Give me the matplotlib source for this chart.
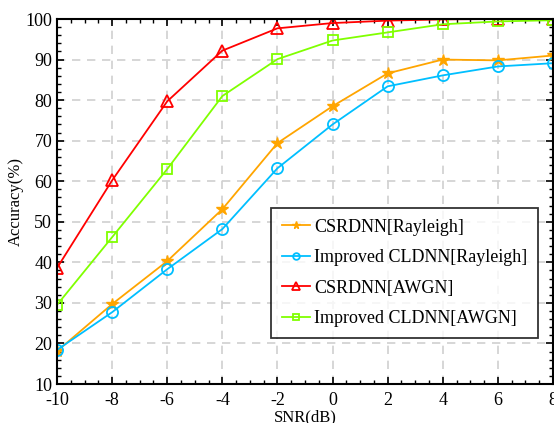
import matplotlib
matplotlib.use("Agg")
import matplotlib.pyplot as plt
from matplotlib.ticker import MultipleLocator

plt.rcParams['font.family'] = ['Liberation Serif', 'DejaVu Serif']
plt.rcParams['mathtext.fontset'] = 'stix'

snr = [-10, -8, -6, -4, -2, 0, 2, 4, 6, 8]
csrdnn_rayleigh = [18.1, 29.7, 40.3, 53.1, 69.4, 78.5, 86.6, 90.0, 89.8, 91.0]
cldnn_rayleigh = [18.4, 27.7, 38.3, 48.2, 63.2, 74.0, 83.4, 86.1, 88.3, 89.1]
csrdnn_awgn = [38.6, 60.2, 79.7, 92.2, 97.7, 99.0, 99.6, 99.9, 100.0, 100.0]
cldnn_awgn = [29.5, 46.2, 63.0, 81.0, 90.1, 94.7, 96.7, 98.7, 99.4, 99.7]

labels = ['CSRDNN[Rayleigh]', 'Improved CLDNN[Rayleigh]', 'CSRDNN[AWGN]', 'Improved CLDNN[AWGN]']
xticks = [-10, -8, -6, -4, -2, 0, 2, 4, 6, 8]
yticks = [10, 20, 30, 40, 50, 60, 70, 80, 90, 100]

fig = plt.figure(figsize=(5.54, 4.23), dpi=100)
ax = fig.add_axes([57/554, 39/423, 496/554, 365/423])

ax.plot(snr, csrdnn_rayleigh, color='#FFA500', marker='*', ms=9, lw=1.3, mew=1.0, label=labels[0])
ax.plot(snr, cldnn_rayleigh, color='#00BFFF', marker='o', ms=8, mfc='none', mew=1.3, lw=1.3, label=labels[1])
ax.plot(snr, csrdnn_awgn, color='#FF0000', marker='^', ms=9, mfc='none', mew=1.3, lw=1.3, label=labels[2])
ax.plot(snr, cldnn_awgn, color='#80FF00', marker='s', ms=7, mfc='none', mew=1.3, lw=1.3, label=labels[3])

ax.set_xlim(-10, 8)
ax.set_ylim(10, 100)
ax.set_xticks(xticks)
ax.set_yticks(yticks)
ax.set_xticklabels([str(t) for t in xticks])
ax.xaxis.set_minor_locator(MultipleLocator(0.5))
ax.yaxis.set_minor_locator(MultipleLocator(2))
ax.tick_params(which='both', direction='in', top=True, right=True, labelsize=13)
ax.tick_params(axis='x', which='major', pad=6)
ax.tick_params(which='major', length=5, width=1.2)
ax.tick_params(which='minor', length=3, width=1.0)
for s in ax.spines.values():
    s.set_linewidth(1.5)
ax.grid(True, which='major', color='#d0d0d0', linestyle=(0, (5, 4)), lw=1.2)
ax.set_axisbelow(True)

ax.set_xlabel('SNR(dB)', fontsize=12, labelpad=0)
ax.set_ylabel('Accuracy(%)', fontsize=12, labelpad=1)

leg = ax.legend(loc='lower right', bbox_to_anchor=(0.970, 0.126), borderaxespad=0, fontsize=13,
                frameon=True, fancybox=False, edgecolor='black', handlelength=1.6, handletextpad=0.2,
                labelspacing=0.75, borderpad=0.6, markerscale=0.6)
leg.get_frame().set_linewidth(1.3)

fig.savefig('out.png', dpi=100)
